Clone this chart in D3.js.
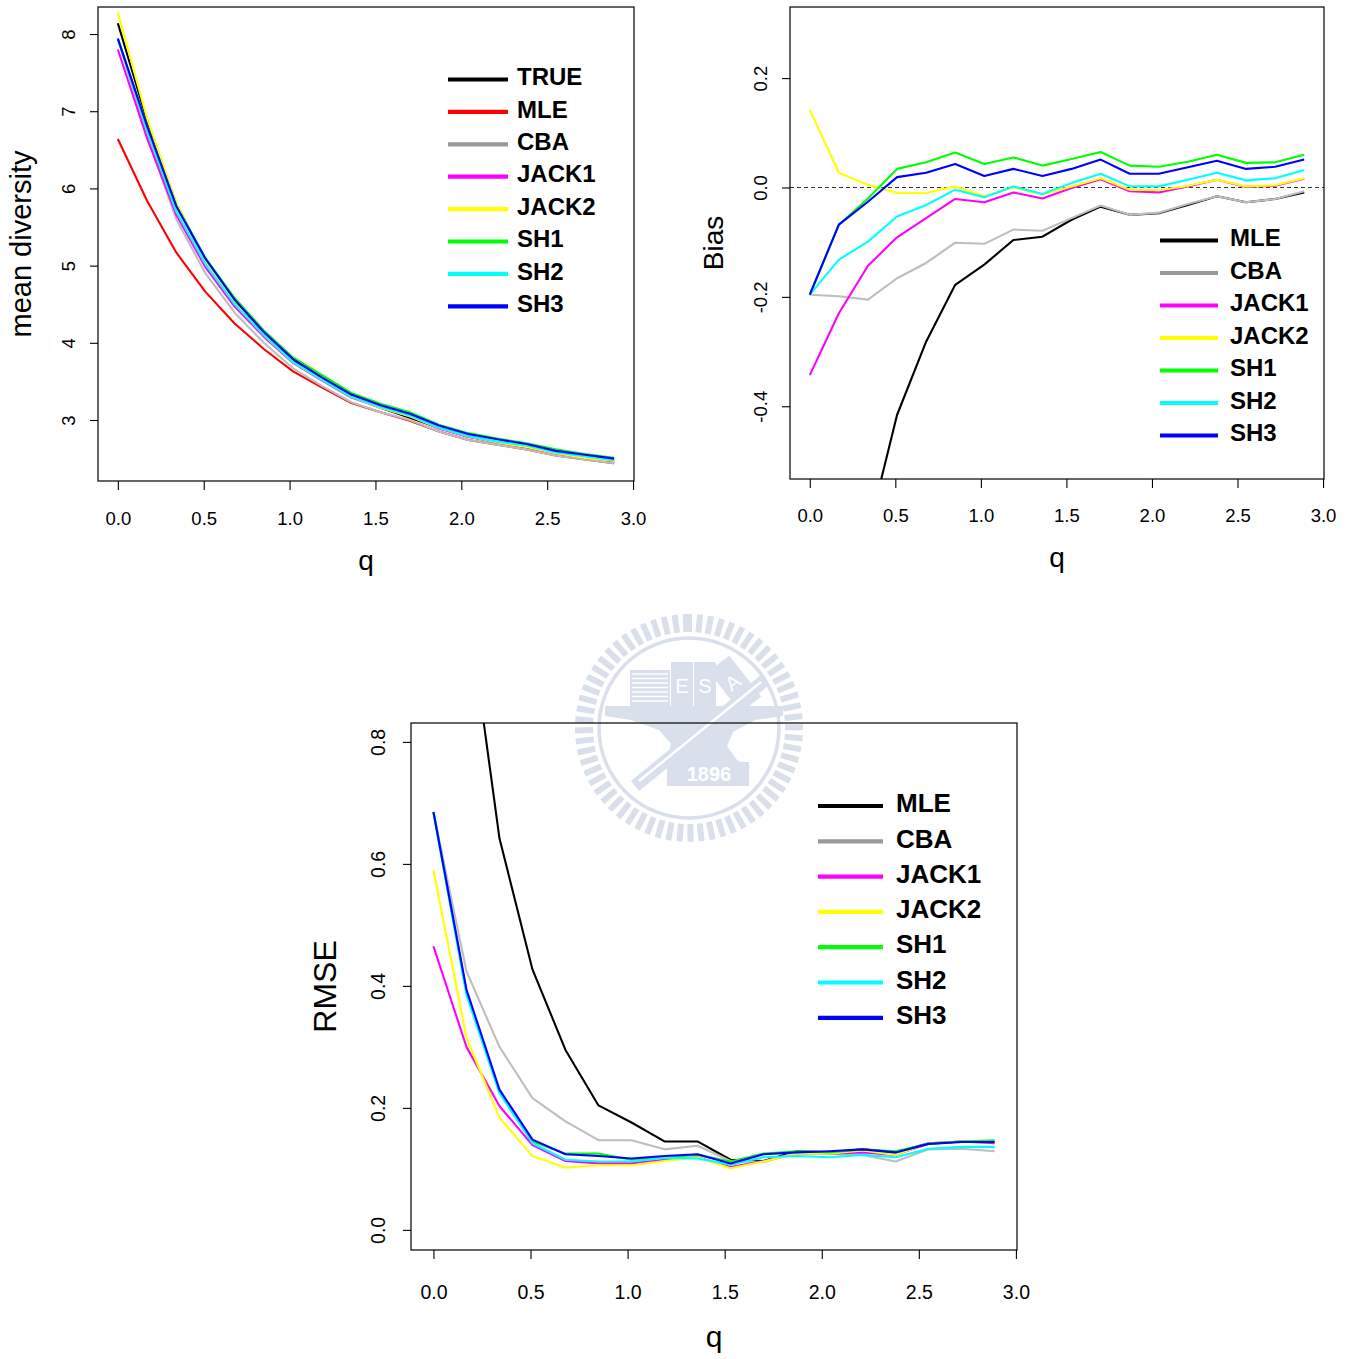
<!DOCTYPE html>
<html>
<head>
<meta charset="utf-8">
<script src="https://cdn.jsdelivr.net/npm/d3@7"></script>
<style>
  body { margin: 0; background: #fff; }
  text { font-family: "Liberation Sans", Arial, Helvetica, sans-serif; }
</style>
</head>
<body>
<script>
// order of q values (x axis, shared by all three panels)
let q = [0, 0.17, 0.34, 0.51, 0.68, 0.85, 1.02, 1.19, 1.36, 1.53, 1.70, 1.87, 2.04, 2.21, 2.38, 2.55, 2.72, 2.89];

// mean diversity
let divTRUE  = [8.14, 6.88, 5.80, 5.07, 4.53, 4.10, 3.77, 3.52, 3.31, 3.16, 3.03, 2.90, 2.79, 2.71, 2.64, 2.57, 2.51, 2.45];
let divMLE   = [6.64, 5.84, 5.17, 4.66, 4.25, 3.92, 3.63, 3.42, 3.22, 3.10, 2.99, 2.85, 2.74, 2.68, 2.62, 2.54, 2.49, 2.44];
let divCBA   = [7.94, 6.68, 5.60, 4.90, 4.39, 4.00, 3.67, 3.44, 3.23, 3.10, 3.00, 2.85, 2.74, 2.68, 2.62, 2.54, 2.49, 2.44];
let divJACK1 = [7.80, 6.65, 5.66, 4.98, 4.47, 4.08, 3.74, 3.51, 3.29, 3.16, 3.05, 2.89, 2.78, 2.71, 2.65, 2.57, 2.51, 2.47];
let divJACK2 = [8.28, 6.91, 5.81, 5.06, 4.52, 4.10, 3.75, 3.52, 3.30, 3.16, 3.05, 2.90, 2.79, 2.71, 2.65, 2.57, 2.51, 2.47];
let divSH1   = [7.94, 6.81, 5.78, 5.10, 4.58, 4.16, 3.81, 3.58, 3.35, 3.21, 3.10, 2.94, 2.83, 2.76, 2.70, 2.62, 2.56, 2.51];
let divSH2   = [7.94, 6.75, 5.70, 5.02, 4.50, 4.10, 3.75, 3.52, 3.30, 3.17, 3.06, 2.90, 2.79, 2.72, 2.67, 2.58, 2.53, 2.48];
let divSH3   = [7.94, 6.81, 5.77, 5.09, 4.56, 4.14, 3.79, 3.55, 3.33, 3.19, 3.08, 2.93, 2.82, 2.75, 2.69, 2.60, 2.55, 2.50];

// bias
let biasMLE   = [-1.50, -1.04, -0.632, -0.416, -0.282, -0.178, -0.141, -0.096, -0.090, -0.059, -0.035, -0.050, -0.047, -0.032, -0.016, -0.027, -0.021, -0.009];
let biasCBA   = [-0.196, -0.199, -0.205, -0.166, -0.138, -0.101, -0.103, -0.077, -0.079, -0.056, -0.033, -0.050, -0.046, -0.030, -0.016, -0.027, -0.021, -0.007];
let biasJACK1 = [-0.343, -0.230, -0.143, -0.091, -0.056, -0.021, -0.027, -0.009, -0.020, -0.001, 0.015, -0.007, -0.009, 0.002, 0.014, 0.001, 0.003, 0.016];
let biasJACK2 = [0.142, 0.027, 0.005, -0.010, -0.010, 0.002, -0.016, 0.000, -0.013, 0.002, 0.017, -0.004, -0.005, 0.003, 0.014, 0.002, 0.004, 0.017];
let biasSH1   = [-0.196, -0.068, -0.020, 0.034, 0.046, 0.064, 0.043, 0.055, 0.040, 0.052, 0.065, 0.040, 0.038, 0.047, 0.060, 0.045, 0.046, 0.060];
let biasSH2   = [-0.196, -0.132, -0.099, -0.053, -0.032, -0.004, -0.018, 0.002, -0.012, 0.008, 0.025, 0.002, 0.002, 0.014, 0.027, 0.013, 0.017, 0.032];
let biasSH3   = [-0.196, -0.068, -0.026, 0.019, 0.027, 0.043, 0.021, 0.034, 0.021, 0.034, 0.051, 0.025, 0.025, 0.037, 0.049, 0.034, 0.038, 0.051];

// RMSE
let rmseMLE   = [1.52, 1.04, 0.642, 0.427, 0.295, 0.204, 0.176, 0.145, 0.145, 0.115, 0.113, 0.129, 0.127, 0.132, 0.127, 0.142, 0.145, 0.144];
let rmseCBA   = [0.685, 0.424, 0.300, 0.216, 0.178, 0.147, 0.147, 0.132, 0.138, 0.113, 0.111, 0.127, 0.125, 0.123, 0.112, 0.132, 0.133, 0.129];
let rmseJACK1 = [0.465, 0.300, 0.203, 0.139, 0.113, 0.109, 0.109, 0.115, 0.119, 0.103, 0.113, 0.125, 0.125, 0.127, 0.123, 0.141, 0.145, 0.142];
let rmseJACK2 = [0.590, 0.315, 0.184, 0.121, 0.102, 0.106, 0.106, 0.113, 0.119, 0.101, 0.112, 0.125, 0.125, 0.130, 0.123, 0.142, 0.145, 0.145];
let rmseSH1   = [0.685, 0.391, 0.227, 0.145, 0.125, 0.125, 0.115, 0.119, 0.123, 0.112, 0.125, 0.129, 0.127, 0.132, 0.129, 0.141, 0.145, 0.147];
let rmseSH2   = [0.685, 0.385, 0.224, 0.142, 0.115, 0.112, 0.112, 0.118, 0.117, 0.107, 0.119, 0.121, 0.119, 0.123, 0.119, 0.133, 0.136, 0.136];
let rmseSH3   = [0.685, 0.394, 0.230, 0.148, 0.124, 0.121, 0.117, 0.121, 0.124, 0.109, 0.124, 0.127, 0.129, 0.132, 0.127, 0.141, 0.144, 0.144];

let xTicks = [0, 0.5, 1, 1.5, 2, 2.5, 3];

// palettes: [line colour, legend colour] (gray is darker in the legends)
let palDiv = [["#000000", "#000000"], ["#ff0000", "#ff0000"], ["#bebebe", "#9a9a9a"], ["#ff00ff", "#ff00ff"],
              ["#ffff00", "#ffff00"], ["#00ff00", "#00ff00"], ["#00ffff", "#00ffff"], ["#0000ff", "#0000ff"]];
let palEst = [["#000000", "#000000"], ["#bebebe", "#9a9a9a"], ["#ff00ff", "#ff00ff"],
              ["#ffff00", "#ffff00"], ["#00ff00", "#00ff00"], ["#00ffff", "#00ffff"], ["#0000ff", "#0000ff"]];

let svg = d3.select("body").append("svg")
    .attr("width", 1351)
    .attr("height", 1359);

// faint seal watermark behind the bottom panel
function watermark() {
    let wc = "#d9e0ec";
    let g = svg.append("g").attr("transform", "translate(689,728)");
    g.selectAll(".wtick")
        .data(d3.range(0, 360, 5.6))
        .enter().append("rect")
        .attr("x", -3).attr("y", -114)
        .attr("width", 6).attr("height", 18)
        .attr("fill", wc)
        .attr("transform", d => "rotate(" + d + ")");
    g.append("circle").attr("r", 90).attr("fill", "none").attr("stroke", wc).attr("stroke-width", 3.5);
    // anvil
    g.append("path")
        .attr("d", "M-84,-22 L94,-22 L94,-12 L66,-8 L44,4 L38,18 L48,32 L62,40 L-34,40 L-22,30 L-18,16 L-30,2 L-58,-8 L-84,-12 Z")
        .attr("fill", wc);
    // books
    g.append("rect").attr("x", -59).attr("y", -58).attr("width", 40).attr("height", 36).attr("fill", wc);
    g.selectAll(".bl").data(d3.range(-54, -24, 4.5)).enter().append("line")
        .attr("x1", -57).attr("x2", -21).attr("y1", d => d).attr("y2", d => d)
        .attr("stroke", "#fff").attr("stroke-width", 1.6);
    g.append("rect").attr("x", -18).attr("y", -66).attr("width", 22).attr("height", 44).attr("fill", wc);
    g.append("rect").attr("x", 5).attr("y", -66).attr("width", 22).attr("height", 44).attr("fill", wc);
    g.append("g").attr("transform", "translate(46,-44) rotate(-38)")
        .append("rect").attr("x", -13).attr("y", -26).attr("width", 26).attr("height", 52).attr("fill", wc);
    g.append("text").attr("x", -7).attr("y", -35).attr("text-anchor", "middle")
        .attr("font-size", 20).attr("fill", "#fff").text("E");
    g.append("text").attr("x", 16).attr("y", -35).attr("text-anchor", "middle")
        .attr("font-size", 20).attr("fill", "#fff").text("S");
    g.append("text").attr("transform", "translate(48,-40) rotate(-38)").attr("text-anchor", "middle")
        .attr("font-size", 20).attr("fill", "#fff").text("A");
    // hammer
    g.append("line").attr("x1", -54).attr("y1", 58).attr("x2", 76).attr("y2", -48)
        .attr("stroke", wc).attr("stroke-width", 13);
    g.append("line").attr("x1", -50).attr("y1", 53).attr("x2", 72).attr("y2", -46)
        .attr("stroke", "#fff").attr("stroke-width", 2.5);
    g.append("rect").attr("x", -22).attr("y", 34).attr("width", 82).attr("height", 24).attr("fill", wc);
    g.append("text").attr("x", 20).attr("y", 53).attr("text-anchor", "middle")
        .attr("font-size", 20).attr("font-weight", "bold").attr("fill", "#fff").text("1896");
}
watermark();

function panel(cfg) {
    let [L, T, R, B] = cfg.box;
    let x = d3.scaleLinear().domain([-0.1156, 3.0056]).range([L, R]);
    let y = d3.scaleLinear().domain(cfg.yDomain).range([B, T]);
    let g = svg.append("g");
    let series = cfg.names.map((n, i) => ({ name: n, values: cfg.values[i], color: cfg.pal[i] }));

    let clipId = "clip" + cfg.id;
    svg.append("clipPath").attr("id", clipId)
        .append("rect").attr("x", L).attr("y", T).attr("width", R - L).attr("height", B - T);

    // x axis
    let xa = g.append("g").attr("transform", "translate(0," + B + ")")
        .call(d3.axisBottom(x).tickValues(xTicks).tickFormat(d => d.toFixed(1))
            .tickSize(9).tickPadding(cfg.xPad));
    xa.select(".domain").remove();
    xa.selectAll("line").attr("stroke", "#000").attr("stroke-width", 1.1);
    xa.selectAll("text").attr("font-size", cfg.tickFs).attr("fill", "#000")
        .attr("font-family", "'Liberation Sans', Arial, sans-serif");

    // y axis with rotated labels
    let ya = g.append("g").attr("transform", "translate(" + L + ",0)")
        .call(d3.axisLeft(y).tickValues(cfg.yTicks).tickFormat(cfg.yFmt).tickSize(8));
    ya.select(".domain").remove();
    ya.selectAll("line").attr("stroke", "#000").attr("stroke-width", 1.1);
    ya.selectAll("text")
        .attr("x", null).attr("dy", null)
        .attr("text-anchor", "middle")
        .attr("dominant-baseline", "central")
        .attr("transform", "translate(" + (-cfg.yLabOff) + ",0) rotate(-90)")
        .attr("font-size", cfg.tickFs).attr("fill", "#000")
        .attr("font-family", "'Liberation Sans', Arial, sans-serif");

    // titles
    g.append("text")
        .attr("x", (L + R) / 2).attr("y", cfg.qY)
        .attr("text-anchor", "middle")
        .attr("font-size", cfg.titleFs)
        .text("q");
    g.append("text")
        .attr("transform", "translate(" + cfg.yTitleX + "," + ((T + B) / 2) + ") rotate(-90)")
        .attr("text-anchor", "middle")
        .attr("font-size", cfg.yTitleFs)
        .text(cfg.yTitle);

    if (cfg.zeroLine) {
        g.append("line")
            .attr("x1", L).attr("x2", R).attr("y1", y(0)).attr("y2", y(0))
            .attr("stroke", "#333").attr("stroke-width", 1.1)
            .attr("stroke-dasharray", "4,3");
    }

    // series lines
    let line = d3.line().x((d, i) => x(q[i])).y(d => y(d));
    g.append("g").attr("clip-path", "url(#" + clipId + ")")
        .selectAll(".series")
        .data(series)
        .enter().append("path")
        .attr("class", "series")
        .attr("d", d => line(d.values))
        .attr("fill", "none")
        .attr("stroke", d => d.color[0])
        .attr("stroke-width", 2.1)
        .attr("stroke-linejoin", "round");

    // box
    g.append("rect").attr("x", L).attr("y", T).attr("width", R - L).attr("height", B - T)
        .attr("fill", "none").attr("stroke", "#000").attr("stroke-width", 1.2);

    // legend
    let lg = cfg.legend;
    let item = g.selectAll(".leg")
        .data(series)
        .enter().append("g")
        .attr("transform", (d, i) => "translate(0," + (lg.y0 + i * lg.dy) + ")");
    item.append("line")
        .attr("x1", lg.x1).attr("x2", lg.x2)
        .attr("stroke", d => d.color[1])
        .attr("stroke-width", 4.2);
    item.append("text")
        .attr("x", lg.tx).attr("y", lg.fs * 0.24)
        .attr("font-size", lg.fs)
        .attr("font-weight", "bold")
        .text(d => d.name);
}

panel({
    id: 1, box: [98, 7, 634, 481], yDomain: [2.21, 8.35], yTicks: [3, 4, 5, 6, 7, 8],
    yFmt: d => String(d), yLabOff: 30, xPad: 22, tickFs: 18.5, titleFs: 28, qY: 570,
    yTitle: "mean diversity", yTitleX: 31, yTitleFs: 29,
    names: ["TRUE", "MLE", "CBA", "JACK1", "JACK2", "SH1", "SH2", "SH3"],
    values: [divTRUE, divMLE, divCBA, divJACK1, divJACK2, divSH1, divSH2, divSH3],
    pal: palDiv,
    legend: { x1: 448, x2: 508, tx: 517, y0: 79.5, dy: 32.4, fs: 24 }
});

panel({
    id: 2, box: [790, 7, 1324, 479], yDomain: [-0.533, 0.330], yTicks: [-0.4, -0.2, 0, 0.2],
    yFmt: d => d.toFixed(1), yLabOff: 30, xPad: 21, tickFs: 18.5, titleFs: 28, qY: 567,
    yTitle: "Bias", yTitleX: 723, yTitleFs: 28, zeroLine: true,
    names: ["MLE", "CBA", "JACK1", "JACK2", "SH1", "SH2", "SH3"],
    values: [biasMLE, biasCBA, biasJACK1, biasJACK2, biasSH1, biasSH2, biasSH3],
    pal: palEst,
    legend: { x1: 1160, x2: 1218, tx: 1230, y0: 240.5, dy: 32.5, fs: 24 }
});

panel({
    id: 3, box: [411, 723, 1017, 1250], yDomain: [-0.033, 0.831], yTicks: [0, 0.2, 0.4, 0.6, 0.8],
    yFmt: d => d.toFixed(1), yLabOff: 33, xPad: 26, tickFs: 19.5, titleFs: 30, qY: 1347,
    yTitle: "RMSE", yTitleX: 336, yTitleFs: 32,
    names: ["MLE", "CBA", "JACK1", "JACK2", "SH1", "SH2", "SH3"],
    values: [rmseMLE, rmseCBA, rmseJACK1, rmseJACK2, rmseSH1, rmseSH2, rmseSH3],
    pal: palEst,
    legend: { x1: 818, x2: 883, tx: 896, y0: 806, dy: 35.3, fs: 26 }
});
</script>
</body>
</html>
